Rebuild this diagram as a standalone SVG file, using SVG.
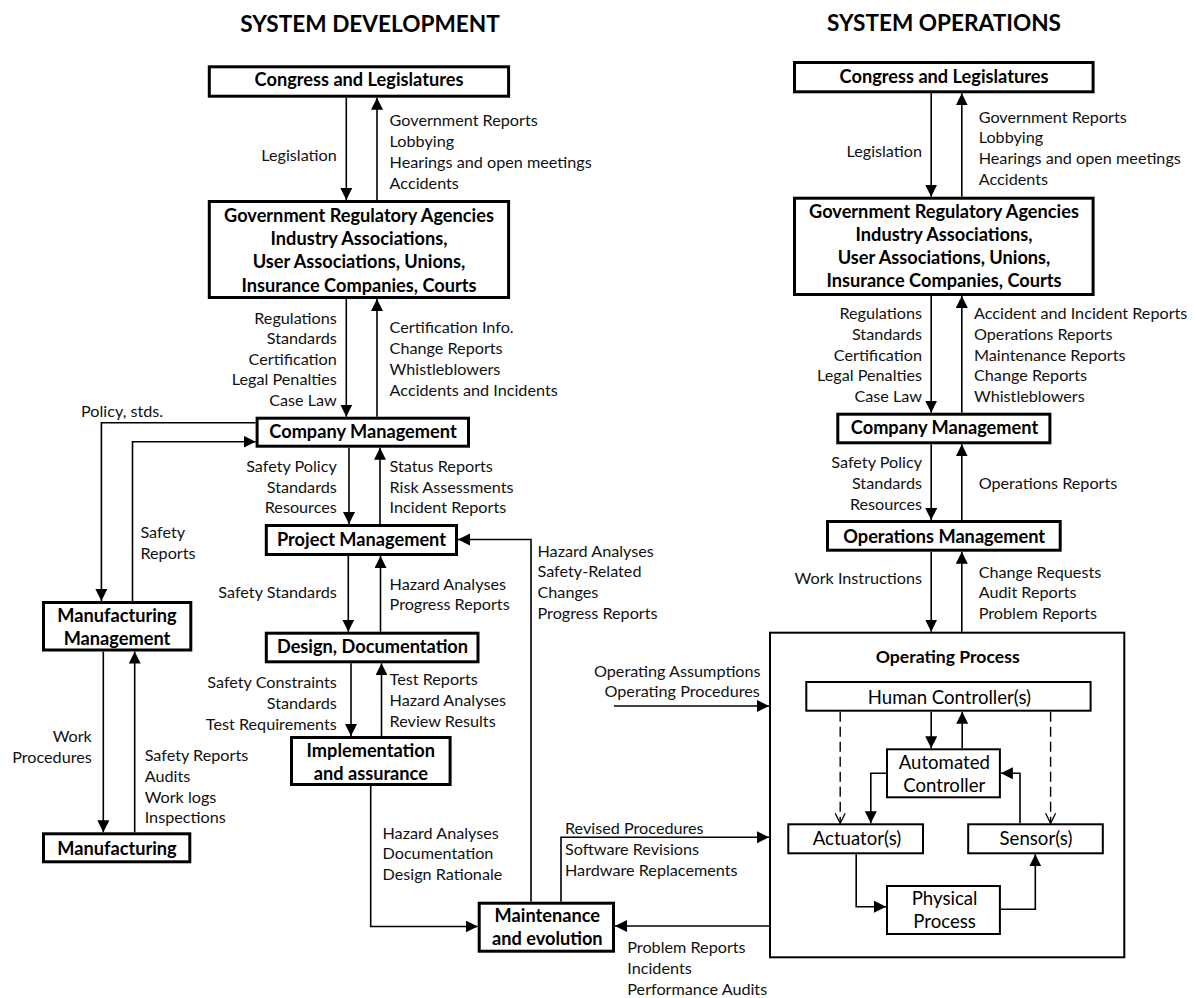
<svg xmlns="http://www.w3.org/2000/svg" width="1196" height="998" viewBox="0 0 1196 998">
  <style>
    .bg { fill: #ffffff; }
    .box { fill: #ffffff; stroke: #000; stroke-width: 3; }
    .ibox { fill: #ffffff; stroke: #000; stroke-width: 2; }
    .frame { fill: none; stroke: #000; stroke-width: 2; }
    .wire { fill: none; stroke: #000; stroke-width: 1.6; }
    .dash { fill: none; stroke: #000; stroke-width: 1.4; stroke-dasharray: 10 5; }
    text { font-family: Lato, "Open Sans", sans-serif; fill: #111; }
    .title { font-size: 22.6px; font-weight: 700; text-anchor: middle; fill: #000; }
    .nb { font-size: 18.2px; font-weight: 700; text-anchor: middle; fill: #000; }
    .opt { font-size: 17.6px; font-weight: 700; text-anchor: middle; fill: #000; }
    .in { font-size: 18.6px; text-anchor: middle; fill: #000; }
    .lb { font-size: 16.2px; }
    .r { text-anchor: end; }
  </style>
  <defs>
    <marker id="ah" markerUnits="userSpaceOnUse" markerWidth="13" markerHeight="13" refX="12" refY="6" orient="auto">
      <path d="M0,0 L12,6 L0,12 z" fill="#000"/>
    </marker>
    <marker id="oh" markerUnits="userSpaceOnUse" markerWidth="13" markerHeight="13" refX="11" refY="6" orient="auto">
      <path d="M1,1 L11,6 L1,11" fill="none" stroke="#000" stroke-width="1.3"/>
    </marker>
  </defs>

  <rect class="bg" x="0" y="0" width="1196" height="998"/>

  <!-- column headings -->
  <text class="title" x="370" y="32">SYSTEM DEVELOPMENT</text>
  <text class="title" x="944" y="31">SYSTEM OPERATIONS</text>

  <!-- outer frame of the operating process (drawn beneath its contents) -->
  <g id="ops-process">
    <rect class="frame" x="770" y="632.7" width="354.3" height="324.6"/>
    <text class="opt" x="947.7" y="663.3">Operating Process</text>
  </g>

  <!-- connectors -->
  <g id="connectors">
    <!-- development side -->
    <path class="wire" marker-end="url(#ah)" d="M346.3,97.7 V200"/>
    <path class="wire" marker-end="url(#ah)" d="M377,200 V97.7"/>
    <path class="wire" marker-end="url(#ah)" d="M346.3,299 V416.7"/>
    <path class="wire" marker-end="url(#ah)" d="M377,416.7 V299"/>
    <path class="wire" marker-end="url(#ah)" d="M255.6,422.7 H101.4 V601"/>
    <path class="wire" marker-end="url(#ah)" d="M132.5,601 V441.7 H255.6"/>
    <path class="wire" marker-end="url(#ah)" d="M349,447.7 V524"/>
    <path class="wire" marker-end="url(#ah)" d="M380,524 V447.7"/>
    <path class="wire" marker-end="url(#ah)" d="M348.3,556 V631.7"/>
    <path class="wire" marker-end="url(#ah)" d="M380.5,631.7 V556"/>
    <path class="wire" marker-end="url(#ah)" d="M351,663.3 V736"/>
    <path class="wire" marker-end="url(#ah)" d="M381.5,736 V663.3"/>
    <path class="wire" marker-end="url(#ah)" d="M370.7,786 V926.5 H477.7"/>
    <path class="wire" marker-end="url(#ah)" d="M531,901.7 V539.5 H458"/>
    <path class="wire" marker-end="url(#ah)" d="M561,901.7 V837.3 H769"/>
    <path class="wire" marker-end="url(#ah)" d="M769,926 H615"/>
    <path class="wire" marker-end="url(#ah)" d="M103.3,651.5 V832.3"/>
    <path class="wire" marker-end="url(#ah)" d="M134.7,832.3 V651.5"/>
    <path class="wire" marker-end="url(#ah)" d="M614,706 H769"/>
    <!-- operations side -->
    <path class="wire" marker-end="url(#ah)" d="M931.2,93.3 V196.7"/>
    <path class="wire" marker-end="url(#ah)" d="M961.8,196.7 V93.3"/>
    <path class="wire" marker-end="url(#ah)" d="M931.2,296 V412.7"/>
    <path class="wire" marker-end="url(#ah)" d="M961.8,412.7 V296"/>
    <path class="wire" marker-end="url(#ah)" d="M931.2,444.3 V520"/>
    <path class="wire" marker-end="url(#ah)" d="M961.8,520 V444.3"/>
    <path class="wire" marker-end="url(#ah)" d="M931.2,551.7 V631.7"/>
    <path class="wire" marker-end="url(#ah)" d="M961.8,631.7 V551.7"/>
    <!-- inside the operating process -->
    <path class="wire" marker-end="url(#ah)" d="M931.2,711.7 V748.3"/>
    <path class="wire" marker-end="url(#ah)" d="M962.2,748.3 V711.7"/>
    <path class="wire" marker-end="url(#ah)" d="M886,773.3 H870.8 V823.3"/>
    <path class="wire" marker-end="url(#ah)" d="M1020,823.3 V773.3 H1000.9"/>
    <path class="wire" marker-end="url(#ah)" d="M856.2,854.3 V906.7 H886"/>
    <path class="wire" marker-end="url(#ah)" d="M1000.9,909.3 H1035.3 V854.3"/>
    <path class="dash" marker-end="url(#oh)" d="M840.2,711.7 V823.3"/>
    <path class="dash" marker-end="url(#oh)" d="M1050.6,711.7 V823.3"/>
  </g>

  <!-- edge labels -->
  <g id="labels" class="lb">
    <text class="r" x="336.8" y="161">Legislation</text>
    <text x="389.6" y="126">Government Reports</text>
    <text x="389.6" y="147">Lobbying</text>
    <text x="389.6" y="168">Hearings and open meetings</text>
    <text x="389.6" y="189">Accidents</text>

    <text class="r" x="336.8" y="323.5">Regulations</text>
    <text class="r" x="336.8" y="344">Standards</text>
    <text class="r" x="336.8" y="364.7">Certification</text>
    <text class="r" x="336.8" y="385.3">Legal Penalties</text>
    <text class="r" x="336.8" y="406">Case Law</text>
    <text x="389.6" y="333.3">Certification Info.</text>
    <text x="389.6" y="354.3">Change Reports</text>
    <text x="389.6" y="375">Whistleblowers</text>
    <text x="389.6" y="396">Accidents and Incidents</text>

    <text x="81" y="417.3">Policy, stds.</text>
    <text x="140.4" y="538.3">Safety</text>
    <text x="140.4" y="559.3">Reports</text>

    <text class="r" x="336.8" y="471.7">Safety Policy</text>
    <text class="r" x="336.8" y="492.7">Standards</text>
    <text class="r" x="336.8" y="513.3">Resources</text>
    <text x="389.6" y="471.7">Status Reports</text>
    <text x="389.6" y="492.7">Risk Assessments</text>
    <text x="389.6" y="513.3">Incident Reports</text>

    <text x="537.5" y="556.7">Hazard Analyses</text>
    <text x="537.5" y="577.3">Safety-Related</text>
    <text x="537.5" y="598.3">Changes</text>
    <text x="537.5" y="619.3">Progress Reports</text>

    <text class="r" x="336.8" y="597.7">Safety Standards</text>
    <text x="389.6" y="589.5">Hazard Analyses</text>
    <text x="389.6" y="610.3">Progress Reports</text>

    <text class="r" x="336.8" y="688.3">Safety Constraints</text>
    <text class="r" x="336.8" y="709.3">Standards</text>
    <text class="r" x="336.8" y="730">Test Requirements</text>
    <text x="389.6" y="685">Test Reports</text>
    <text x="389.6" y="706">Hazard Analyses</text>
    <text x="389.6" y="726.7">Review Results</text>

    <text class="r" x="91.8" y="741.7">Work</text>
    <text class="r" x="91.8" y="763.3">Procedures</text>
    <text x="144.7" y="761">Safety Reports</text>
    <text x="144.7" y="781.7">Audits</text>
    <text x="144.7" y="802.7">Work logs</text>
    <text x="144.7" y="823.3">Inspections</text>

    <text x="382.5" y="838.8">Hazard Analyses</text>
    <text x="382.5" y="859.3">Documentation</text>
    <text x="382.5" y="879.7">Design Rationale</text>

    <text x="565" y="834">Revised Procedures</text>
    <text x="565" y="855">Software Revisions</text>
    <text x="565" y="876">Hardware Replacements</text>

    <text x="627.3" y="953.3">Problem Reports</text>
    <text x="627.3" y="974.3">Incidents</text>
    <text x="627.3" y="995">Performance Audits</text>

    <text class="r" x="760.6" y="676.7">Operating Assumptions</text>
    <text class="r" x="759.8" y="696.7">Operating Procedures</text>

    <text class="r" x="922" y="156.7">Legislation</text>
    <text x="978.7" y="122.7">Government Reports</text>
    <text x="978.7" y="143.3">Lobbying</text>
    <text x="978.7" y="164">Hearings and open meetings</text>
    <text x="978.7" y="185">Accidents</text>

    <text class="r" x="922" y="319">Regulations</text>
    <text class="r" x="922" y="340">Standards</text>
    <text class="r" x="922" y="360.5">Certification</text>
    <text class="r" x="922" y="381">Legal Penalties</text>
    <text class="r" x="922" y="401.7">Case Law</text>
    <text x="974" y="319">Accident and Incident Reports</text>
    <text x="974" y="340">Operations Reports</text>
    <text x="974" y="360.5">Maintenance Reports</text>
    <text x="974" y="381">Change Reports</text>
    <text x="974" y="401.7">Whistleblowers</text>

    <text class="r" x="922" y="468.3">Safety Policy</text>
    <text class="r" x="922" y="489.3">Standards</text>
    <text class="r" x="922" y="510">Resources</text>
    <text x="978.7" y="489.3">Operations Reports</text>

    <text class="r" x="922" y="584">Work Instructions</text>
    <text x="978.7" y="577.7">Change Requests</text>
    <text x="978.7" y="598.3">Audit Reports</text>
    <text x="978.7" y="619">Problem Reports</text>
  </g>

  <!-- development nodes -->
  <g id="dev-congress">
    <rect class="box" x="209.3" y="66.8" width="299.3" height="29.4"/>
    <text class="nb" x="359" y="86">Congress and Legislatures</text>
  </g>
  <g id="dev-agencies">
    <rect class="box" x="209.3" y="201.5" width="299.3" height="96"/>
    <text class="nb" x="359" y="221.7">Government Regulatory Agencies</text>
    <text class="nb" x="359" y="245">Industry Associations,</text>
    <text class="nb" x="359" y="268.3">User Associations, Unions,</text>
    <text class="nb" x="359" y="291.7">Insurance Companies, Courts</text>
  </g>
  <g id="dev-company">
    <rect class="box" x="257.1" y="418.2" width="211.4" height="28"/>
    <text class="nb" x="363" y="438.3">Company Management</text>
  </g>
  <g id="dev-project">
    <rect class="box" x="266.3" y="525.5" width="190.2" height="29"/>
    <text class="nb" x="361.5" y="546">Project Management</text>
  </g>
  <g id="dev-design">
    <rect class="box" x="266.3" y="633.2" width="211.7" height="28.6"/>
    <text class="nb" x="372.5" y="653.3">Design, Documentation</text>
  </g>
  <g id="dev-implementation">
    <rect class="box" x="291.5" y="737.5" width="158.6" height="47"/>
    <text class="nb" x="370.8" y="756.7">Implementation</text>
    <text class="nb" x="370.8" y="780">and assurance</text>
  </g>
  <g id="dev-maintenance">
    <rect class="box" x="479.2" y="903.2" width="134.3" height="48"/>
    <text class="nb" x="547.3" y="921.7">Maintenance</text>
    <text class="nb" x="547.3" y="945">and evolution</text>
  </g>
  <g id="dev-mfg-management">
    <rect class="box" x="43.5" y="602.5" width="147.3" height="47.5"/>
    <text class="nb" x="117" y="621.7">Manufacturing</text>
    <text class="nb" x="117" y="645">Management</text>
  </g>
  <g id="dev-manufacturing">
    <rect class="box" x="43.5" y="833.8" width="146.3" height="28"/>
    <text class="nb" x="117" y="855">Manufacturing</text>
  </g>

  <!-- operations nodes -->
  <g id="ops-congress">
    <rect class="box" x="794.5" y="62.5" width="298.6" height="29.3"/>
    <text class="nb" x="944" y="83.3">Congress and Legislatures</text>
  </g>
  <g id="ops-agencies">
    <rect class="box" x="794.5" y="198.2" width="298.6" height="96.3"/>
    <text class="nb" x="944" y="217.7">Government Regulatory Agencies</text>
    <text class="nb" x="944" y="240.7">Industry Associations,</text>
    <text class="nb" x="944" y="264">User Associations, Unions,</text>
    <text class="nb" x="944" y="287.3">Insurance Companies, Courts</text>
  </g>
  <g id="ops-company">
    <rect class="box" x="837.8" y="414.2" width="212.1" height="28.6"/>
    <text class="nb" x="944.5" y="434.3">Company Management</text>
  </g>
  <g id="ops-operations">
    <rect class="box" x="827.5" y="521.5" width="232.7" height="28.7"/>
    <text class="nb" x="944.2" y="542.7">Operations Management</text>
  </g>
  <g id="ops-human">
    <rect class="ibox" x="806.3" y="682" width="284.3" height="28.7"/>
    <text class="in" x="949.4" y="704">Human Controller(s)</text>
  </g>
  <g id="ops-automated">
    <rect class="ibox" x="887" y="749.3" width="112.9" height="48"/>
    <text class="in" x="944.3" y="769.3">Automated</text>
    <text class="in" x="944.3" y="791.7">Controller</text>
  </g>
  <g id="ops-actuator">
    <rect class="ibox" x="788.3" y="824.3" width="134.7" height="29"/>
    <text class="in" x="857" y="845">Actuator(s)</text>
  </g>
  <g id="ops-sensor">
    <rect class="ibox" x="968.2" y="824.3" width="134.6" height="29"/>
    <text class="in" x="1036" y="845">Sensor(s)</text>
  </g>
  <g id="ops-physical">
    <rect class="ibox" x="887" y="886" width="112.9" height="48"/>
    <text class="in" x="944.6" y="905">Physical</text>
    <text class="in" x="944.6" y="928.3">Process</text>
  </g>
</svg>
